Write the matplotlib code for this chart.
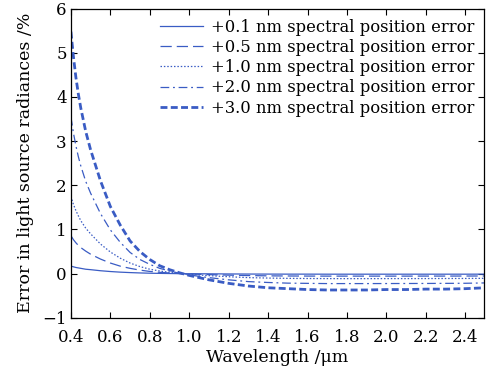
import numpy as np
import matplotlib
matplotlib.use("Agg")
import matplotlib.pyplot as plt

# wavelength sample points (um)
wl = [0.4, 0.4125, 0.425, 0.4375, 0.45, 0.475, 0.5, 0.55, 0.6, 0.65, 0.7, 0.75, 0.8, 0.85, 0.9, 0.95,
      1.0, 1.1, 1.2, 1.3, 1.4, 1.5, 1.6, 1.7, 1.8, 1.9, 2.0, 2.1, 2.2, 2.3, 2.4, 2.5]

# error in radiance (%)
err_01 = [0.17, 0.155, 0.14, 0.13, 0.12, 0.10, 0.09, 0.066, 0.048, 0.034, 0.024, 0.016, 0.010, 0.006, 0.003, 0.0,
          -0.002, -0.004, -0.007, -0.009, -0.010, -0.011, -0.011, -0.012, -0.012, -0.012, -0.012,
          -0.012, -0.012, -0.012, -0.012, -0.011]
err_05 = [0.86, 0.77, 0.70, 0.64, 0.59, 0.51, 0.44, 0.33, 0.24, 0.17, 0.12, 0.08, 0.05, 0.03, 0.015, 0.003,
          -0.007, -0.022, -0.034, -0.043, -0.050, -0.053, -0.055, -0.056, -0.056, -0.056, -0.056,
          -0.056, -0.055, -0.055, -0.054, -0.053]
err_10 = [1.75, 1.57, 1.43, 1.31, 1.20, 1.03, 0.90, 0.67, 0.49, 0.35, 0.24, 0.16, 0.10, 0.06, 0.03, 0.005,
          -0.015, -0.045, -0.07, -0.09, -0.10, -0.107, -0.11, -0.112, -0.113, -0.113, -0.112,
          -0.112, -0.111, -0.11, -0.109, -0.106]
err_20 = [3.55, 3.19, 2.90, 2.65, 2.44, 2.09, 1.82, 1.36, 0.99, 0.71, 0.48, 0.32, 0.21, 0.12, 0.06, 0.01,
          -0.03, -0.09, -0.14, -0.18, -0.20, -0.215, -0.22, -0.225, -0.225, -0.225, -0.224,
          -0.223, -0.222, -0.22, -0.218, -0.21]
err_30 = [5.48, 4.92, 4.45, 4.07, 3.75, 3.22, 2.80, 2.10, 1.52, 1.10, 0.74, 0.50, 0.32, 0.18, 0.09, 0.02,
          -0.04, -0.14, -0.22, -0.28, -0.32, -0.34, -0.36, -0.37, -0.37, -0.37, -0.36,
          -0.36, -0.35, -0.35, -0.34, -0.32]

labels = ["+0.1 nm spectral position error", "+0.5 nm spectral position error",
          "+1.0 nm spectral position error", "+2.0 nm spectral position error",
          "+3.0 nm spectral position error"]

plt.rcParams["font.family"] = ["DejaVu Serif"]

c = "#3a5cc4"
fig = plt.figure(figsize=(4.96, 3.77), dpi=100)
ax = fig.add_axes([0.143, 0.157, 0.833, 0.82])

ax.plot(wl, err_01, color=c, lw=0.9, ls="-", label=labels[0])
ax.plot(wl, err_05, color=c, lw=0.9, ls=(0, (9, 4)), label=labels[1])
ax.plot(wl, err_10, color=c, lw=0.9, ls=(0, (1.2, 1.5)), label=labels[2])
ax.plot(wl, err_20, color=c, lw=0.9, ls=(0, (7, 3, 1.5, 3)), label=labels[3])
ax.plot(wl, err_30, color=c, lw=2.0, ls=(0, (2.5, 1.2)), label=labels[4])

ax.set_xlim(0.4, 2.495)
ax.set_ylim(-1, 6)
ax.set_xticks([0.4, 0.6, 0.8, 1.0, 1.2, 1.4, 1.6, 1.8, 2.0, 2.2, 2.4])
ax.set_xticklabels(["0.4", "0.6", "0.8", "1.0", "1.2", "1.4", "1.6", "1.8", "2.0", "2.2", "2.4"])
ax.set_yticks(range(-1, 7))
ax.set_yticklabels(["\u22121", "0", "1", "2", "3", "4", "5", "6"])
ax.tick_params(direction="in", top=True, right=True, labelsize=12, length=4, width=0.8)
ax.tick_params(axis="x", pad=8)
ax.tick_params(axis="y", pad=3)
for s in ax.spines.values():
    s.set_linewidth(0.9)

ax.set_xlabel("Wavelength /\u03bcm", fontsize=12.5, labelpad=2)
ax.set_ylabel("Error in light source radiances /%", fontsize=12.5, labelpad=6)

ax.legend(loc="upper right", frameon=False, fontsize=11.8, handlelength=2.6,
          handletextpad=0.5, labelspacing=0.2, borderaxespad=0.2,
          bbox_to_anchor=(1.0, 1.0))

fig.savefig("out.png", dpi=100)
